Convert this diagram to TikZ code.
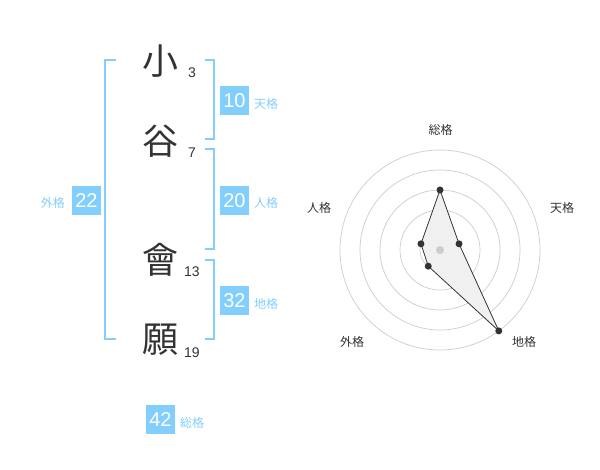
\documentclass[tikz,border=0pt]{standalone}
\usepackage{fontspec}
\usetikzlibrary{calc}
\setmainfont{Liberation Sans}
\newfontfamily\cjk{Noto Sans CJK JP}
\definecolor{sky}{HTML}{82CEFC}
\definecolor{ink}{HTML}{333333}
\definecolor{ring}{HTML}{CCCCCC}
\begin{document}
\begin{tikzpicture}[x=1pt,y=-1pt,
  kanji/.style={font=\cjk\fontsize{36}{36}\selectfont, text=ink, inner sep=0pt},
  strokes/.style={font=\fontsize{14}{14}\selectfont, text=ink, inner sep=0pt},
  numbox/.style={fill=sky, text=white, minimum width=29pt, minimum height=29pt, inner sep=0pt, font=\fontsize{20}{20}\selectfont},
  kaku/.style={font=\cjk\fontsize{12}{12}\selectfont, text=sky, inner sep=0pt},
  radlabel/.style={font=\cjk\fontsize{12}{12}\selectfont, text=ink, inner sep=0pt},
  bracket/.style={draw=sky, line width=2pt},
  ringline/.style={draw=ring, line width=0.7pt},
  dot/.style={circle, fill=ink, minimum size=7pt, inner sep=0pt}
]
\useasboundingbox (0,0) rectangle (600,470);
% characters
\node[kanji] (c1) at (160,61) {小};
\node[kanji] (c2) at (160,141) {谷};
\node[kanji] (c3) at (160,260) {會};
\node[kanji] (c4) at (160,340) {願};
\node[strokes] (s1) at (192,73) {3};
\node[strokes] (s2) at (192,153) {7};
\node[strokes] (s3) at (192,272) {13};
\node[strokes] (s4) at (192,353) {19};
% brackets
\draw[bracket] (116,60) -- (105,60) -- (105,339) -- (116,339);
\draw[bracket] (205,60) -- (214,60) -- (214,139) -- (205,139);
\draw[bracket] (205,149) -- (214,149) -- (214,249) -- (205,249);
\draw[bracket] (205,260) -- (214,260) -- (214,339) -- (205,339);
% number boxes
\node[numbox] (ten) at (234.5,100.5) {10};
\node[kaku, anchor=west] (tenl) at (254,104) {天格};
\node[numbox] (jin) at (234.5,200.5) {20};
\node[kaku, anchor=west] (jinl) at (254,203) {人格};
\node[numbox] (gai) at (86.5,200.5) {22};
\node[kaku, anchor=east] (gail) at (65,203) {外格};
\node[numbox] (chi) at (234.5,300.5) {32};
\node[kaku, anchor=west] (chil) at (254,304) {地格};
\node[numbox] (sou) at (160.5,419.5) {42};
\node[kaku, anchor=west] (soul) at (180,423) {総格};
% radar chart
\coordinate (C) at (440,250);
\foreach \r in {20,40,60,80,100}{\draw[ringline] (C) circle[radius=\r pt];}
\coordinate (pS) at ($(C)+(90:60pt)$);
\coordinate (pT) at ($(C)+(18:20pt)$);
\coordinate (pC) at ($(C)+(-54:100pt)$);
\coordinate (pG) at ($(C)+(-126:20pt)$);
\coordinate (pJ) at ($(C)+(162:20pt)$);
\filldraw[fill=black!6, draw=ink, line width=0.8pt, line join=round] (pS) -- (pT) -- (pC) -- (pG) -- (pJ) -- cycle;
\fill[ring] (C) circle[radius=4pt];
\foreach \p in {pS,pT,pC,pG,pJ}{\node[dot] at (\p) {};}
\node[radlabel] (lS) at (440.5,130) {総格};
\node[radlabel] (lT) at (562,208) {天格};
\node[radlabel] (lC) at (524,342) {地格};
\node[radlabel] (lG) at (352,342) {外格};
\node[radlabel] (lJ) at (319,208) {人格};
\end{tikzpicture}
\end{document}
